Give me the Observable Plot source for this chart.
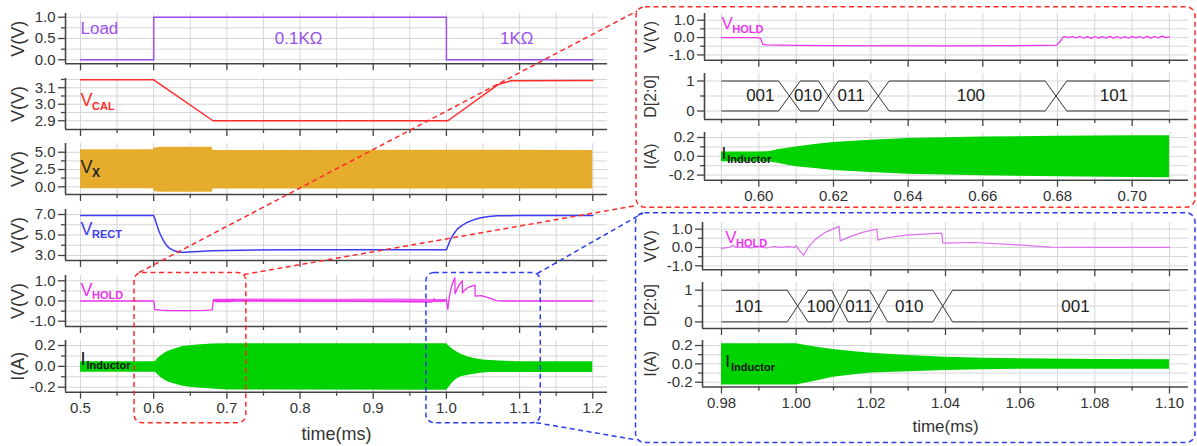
<!DOCTYPE html>
<html><head><meta charset="utf-8">
<script src="https://cdn.jsdelivr.net/npm/d3@7"></script>
<script src="https://cdn.jsdelivr.net/npm/@observablehq/plot@0.6"></script>
<style>
body{margin:0;background:#fff}
#fig{position:relative;width:1197px;height:446px;overflow:hidden;background:#fff;font-family:"Liberation Sans",Arial,sans-serif}
#fig svg{position:absolute}
</style>
</head><body><div id="fig"></div>
<script>
// ---------- DATA ----------
// Load control (step)
const loadT = [0.5, 0.6, 0.6, 1.0, 1.0, 1.2];
const loadV = [0, 0, 1, 1, 0, 0];
// VCAL
const vcalT = [0.5, 0.6, 0.681, 1.002, 1.07, 1.088, 1.2];
const vcalV = [3.148, 3.148, 2.90, 2.90, 3.118, 3.142, 3.144];
// VX switching envelope
const vxT  = [0.5, 0.6, 0.601, 0.61, 0.68, 0.681, 1.0, 1.2];
const vxHi = [5.35, 5.35, 5.6, 5.72, 5.72, 5.25, 5.28, 5.25];
const vxLo = [-0.29, -0.29, -0.7, -0.78, -0.78, -0.3, -0.3, -0.3];
// VRECT
const vrectT = [0.5, 0.6, 0.603, 0.606, 0.609, 0.613, 0.618, 0.622, 0.627, 0.632, 0.636, 0.642, 0.655, 0.68, 0.72, 0.8, 1.0, 1.003, 1.006, 1.01, 1.015, 1.022, 1.029, 1.037, 1.047, 1.058, 1.07, 1.1, 1.2];
const vrectV = [6.9, 6.9, 6.3, 5.6, 5.07, 4.5, 3.93, 3.7, 3.49, 3.38, 3.32, 3.31, 3.36, 3.45, 3.52, 3.55, 3.55, 4.1, 4.63, 5.1, 5.6, 5.97, 6.25, 6.48, 6.68, 6.8, 6.87, 6.9, 6.9];
// VHOLD
const vholdT = [0.5, 0.59, 0.5995, 0.6005, 0.601, 0.602, 0.61, 0.62, 0.65, 0.67, 0.6798, 0.6808, 0.6815, 0.682,
  0.683, 0.684, 0.685, 0.686, 0.687, 0.688, 0.689, 0.690, 0.691, 0.692, 0.693, 0.694, 0.695, 0.696, 0.697, 0.698, 0.699,
  0.700, 0.701, 0.702, 0.703, 0.704, 0.705, 0.706, 0.707, 0.708, 0.709, 0.710,
  0.98, 0.982, 0.983, 0.984, 0.986, 0.988, 0.990, 0.992, 0.994, 0.996, 0.998, 0.9995, 1.000, 1.001, 1.002, 1.0032, 1.0052,
  1.008, 1.0115, 1.0118, 1.0139, 1.0177, 1.0216, 1.0219, 1.0236, 1.0294, 1.039, 1.0393, 1.0478, 1.0603, 1.068, 1.08, 1.10, 1.2];
const vholdV = [0.0, 0.0, 0.0, -0.05, -0.38, -0.42, -0.45, -0.47, -0.48, -0.46, -0.44, -0.2, 0.02, 0.06,
  0.0, 0.05, -0.02, 0.06, -0.04, 0.05, -0.05, 0.06, -0.03, 0.05, -0.04, 0.07, -0.03, 0.06, -0.04, 0.05, -0.04,
  0.07, -0.02, 0.06, -0.04, 0.07, -0.03, 0.06, -0.02, 0.08, -0.01, 0.04,
  -0.05, 0.0, 0.12, 0.0, 0.03, -0.02, 0.04, -0.03, 0.05, 0.0, 0.04, 0.0, 0.1, -0.2, -0.42, 0.0, 0.45,
  0.85, 1.15, 0.36, 0.55, 0.82, 1.0, 0.4, 0.5, 0.67, 0.78, 0.24, 0.27, 0.13, 0.02, 0.0, 0.0, 0.0];
// VHOLD noise band (overview)
const holdNoiseT  = [0.682, 0.75, 0.85, 0.93, 0.999];
const holdNoiseHi = [0.09, 0.1, 0.09, 0.1, 0.08];
const holdNoiseLo = [-0.07, -0.08, -0.07, -0.08, -0.07];
// Inductor current envelope
const indT  = [0.5, 0.59, 0.600, 0.603, 0.605, 0.61, 0.615, 0.62, 0.63, 0.64, 0.65, 0.66, 0.68, 0.70, 0.71, 0.98, 1.0, 1.002, 1.006, 1.01, 1.015, 1.02, 1.03, 1.04, 1.05, 1.06, 1.08, 1.10, 1.2];
const indHi = [0.045, 0.045, 0.045, 0.05, 0.07, 0.10, 0.125, 0.146, 0.17, 0.19, 0.198, 0.204, 0.214, 0.218, 0.218, 0.218, 0.218, 0.205, 0.178, 0.156, 0.135, 0.116, 0.09, 0.073, 0.062, 0.055, 0.048, 0.044, 0.044];
const indLo = [-0.057, -0.057, -0.057, -0.06, -0.075, -0.11, -0.13, -0.15, -0.172, -0.19, -0.2, -0.207, -0.218, -0.226, -0.228, -0.229, -0.229, -0.215, -0.18, -0.145, -0.12, -0.10, -0.085, -0.073, -0.063, -0.058, -0.058, -0.06, -0.06];
// D[2:0] bus, zoom 1 (load step up)
const busAStart = [0.59, 0.6111, 0.6213, 0.6349, 0.6825];
const busAEnd   = [0.6053, 0.6160, 0.6291, 0.6767, 0.71];
const busALabel = ["001", "010", "011", "100", "101"];
const busALabelT = [0.6004, 0.6132, 0.6247, 0.6568, 0.6951];
// D[2:0] bus, zoom 2 (load step down)
const busBStart = [0.98, 1.0032, 1.0139, 1.0245, 1.0419];
const busBEnd   = [0.9976, 1.0095, 1.0197, 1.0366, 1.10];
const busBLabel = ["101", "100", "011", "010", "001"];
const busBLabelT = [0.9873, 1.0066, 1.0168, 1.0303, 1.0748];
// zoom regions marked in overview
const zoomT1 = [0.5738, 0.9727];
const zoomT2 = [0.7266, 1.1289];
// ticks
const leftXMajor = [0.5, 0.6, 0.7, 0.8, 0.9, 1.0, 1.1, 1.2];
const leftXMinor = [0.55, 0.65, 0.75, 0.85, 0.95, 1.05, 1.15];
const zoomAXMajor = [0.60, 0.62, 0.64, 0.66, 0.68, 0.70];
const zoomAXMinor = [0.59, 0.61, 0.63, 0.65, 0.67, 0.69, 0.71];
const zoomBXMajor = [0.98, 1.00, 1.02, 1.04, 1.06, 1.08, 1.10];
const zoomBXMinor = [0.99, 1.01, 1.03, 1.05, 1.07, 1.09];

// ---------- HELPERS ----------
const FONT = '"Liberation Sans", Arial, sans-serif';
const rows2 = (t, v) => t.map((x, i) => ({t: x, v: v[i]}));
const rows3 = (t, lo, hi) => t.map((x, i) => ({t: x, lo: lo[i], hi: hi[i]}));
const inRange = (rows, a, b) => rows.filter(d => d.t >= a - 1e-9 && d.t <= b + 1e-9);
const f1 = d => d.toFixed(1), f2 = d => d.toFixed(2), f0 = d => d.toFixed(0), none = () => "";
const fig = document.getElementById("fig");

function sig(main, sub, x, y, color, size, subSize) {
  const w = main === "I" ? 0.278 * size + 1 : 0.667 * size - 0.5;
  return [
    Plot.text([0], {x: () => x, y: () => y, text: () => main, fill: color, fontSize: size, textAnchor: "start"}),
    Plot.text([0], {x: () => x, y: () => y, text: () => sub, fill: color, fontSize: subSize, fontWeight: "bold", textAnchor: "start", dx: w, dy: 6})
  ];
}
function label(txt, x, y, color, size) {
  return Plot.text([0], {x: () => x, y: () => y, text: () => txt, fill: color, fontSize: size, textAnchor: "middle"});
}

function panel(c) {
  const mt = 8, mb = c.mb ?? 14;
  const width = c.fx1 - c.left + 6;
  const height = (c.fy1 - c.fy0) + mt + mb;
  const p = Plot.plot({
    width, height,
    marginLeft: c.fx0 - c.left, marginRight: 6, marginTop: mt, marginBottom: mb,
    x: {domain: c.xDomain}, y: {domain: c.yDomain},
    style: {background: "transparent", overflow: "visible", fontFamily: FONT, fontSize: "15px", color: "#333"},
    marks: [
      Plot.gridX(c.xMajor.concat(c.xMinor), {stroke: "#d6d6d6", strokeOpacity: 1, strokeWidth: 1}),
      Plot.gridY(c.yMajor.concat(c.yMinor), {stroke: "#d6d6d6", strokeOpacity: 1, strokeWidth: 1}),
      ...c.marks,
      Plot.ruleY([c.yDomain[0]], {stroke: "#444", strokeWidth: 1.6}),
      Plot.ruleX([c.xDomain[0]], {stroke: "#444", strokeWidth: 1.6}),
      Plot.axisX(c.xMinor, {tickSize: 4, tickFormat: none, label: null, stroke: "#444", strokeWidth: 1.3}),
      Plot.axisX(c.xMajor, {tickSize: 7, tickPadding: 3, tickFormat: c.xLabels ? c.xFmt : none, label: null, stroke: "#444", strokeWidth: 1.3, fontSize: c.xFont ?? 15}),
      Plot.axisY(c.yMinor, {tickSize: 4, tickFormat: none, label: null, stroke: "#444", strokeWidth: 1.3}),
      Plot.axisY(c.yMajor, {tickSize: 7, tickPadding: 3, tickFormat: c.yFmt, label: null, stroke: "#444", strokeWidth: 1.3, fontSize: 15}),
      Plot.text([c.yLabel], {text: d => d, frameAnchor: "left", rotate: -90, dx: c.yLabelDx, fontSize: c.yLabelSize, fill: "#333", textAnchor: "middle", lineAnchor: "middle"}),
      ...(c.xTitle ? [Plot.text([c.xTitle], {text: d => d, frameAnchor: "bottom", dy: c.xTitleDy, fontSize: c.xTitleSize, fill: "#333", textAnchor: "middle", lineAnchor: "middle"})] : [])
    ]
  });
  p.style.left = c.left + "px";
  p.style.top = (c.fy0 - mt) + "px";
  fig.appendChild(p);
  return p;
}

// ---------- COLORS ----------
const cLoad = "#9a50f0", cCal = "#ff2b2b", cVx = "#e6ac2e", cRect = "#3c3cf5", cHold = "#ee33ee", cHoldB = "#dc70ee", cInd = "#00d200", cBus = "#333";

// ---------- OVERVIEW (left) ----------
const LX = [0.4795, 1.2201];
const L = {left: 0, fx0: 65, fx1: 607, xDomain: LX, xMajor: leftXMajor, xMinor: leftXMinor, xFmt: f1, yLabelDx: -47, yLabelSize: 18};

panel({...L, fy0: 13, fy1: 63.3, yDomain: [-0.094, 1.087], yMajor: [0, 0.5, 1.0], yMinor: [0.25, 0.75], yFmt: f1, yLabel: "V(V)",
  marks: [
    Plot.line(rows2(loadT, loadV), {x: "t", y: "v", stroke: cLoad, strokeWidth: 1.5}),
    Plot.text([0], {x: () => 0.5, y: () => 0.73, text: () => "Load", fill: cLoad, fontSize: 17, textAnchor: "start"}),
    label("0.1KΩ", 0.798, 0.5, cLoad, 17),
    label("1KΩ", 1.096, 0.49, cLoad, 17)
  ]});

panel({...L, fy0: 78, fy1: 129, yDomain: [2.847, 3.156], yMajor: [2.9, 3.0, 3.1], yMinor: [2.95, 3.05, 3.15], yFmt: f1, yLabel: "V(V)",
  marks: [
    Plot.line(rows2(vcalT, vcalV), {x: "t", y: "v", stroke: cCal, strokeWidth: 1.5}),
    ...sig("V", "CAL", 0.5, 3.023, cCal, 18, 11)
  ]});

panel({...L, fy0: 143, fy1: 194, yDomain: [-1.11, 6.26], yMajor: [0, 2.5, 5.0], yMinor: [1.25, 3.75], yFmt: f1, yLabel: "V(V)",
  marks: [
    Plot.areaY(rows3(vxT, vxLo, vxHi), {x: "t", y1: "lo", y2: "hi", fill: cVx}),
    ...sig("V", "X", 0.5, 2.83, "#222", 18, 12)
  ]});

panel({...L, fy0: 209, fy1: 260, yDomain: [2.51, 7.49], yMajor: [3, 5, 7], yMinor: [4, 6], yFmt: f1, yLabel: "V(V)",
  marks: [
    Plot.line(rows2(vrectT, vrectV), {x: "t", y: "v", stroke: cRect, strokeWidth: 1.5}),
    ...sig("V", "RECT", 0.5, 5.6, cRect, 18, 11)
  ]});

panel({...L, fy0: 275, fy1: 326, yDomain: [-1.262, 1.262], yMajor: [-1, 0, 1], yMinor: [-0.5, 0.5], yFmt: f1, yLabel: "V(V)",
  marks: [
    Plot.areaY(rows3(holdNoiseT, holdNoiseLo, holdNoiseHi), {x: "t", y1: "lo", y2: "hi", fill: cHold, fillOpacity: 0.75}),
    Plot.line(rows2(vholdT, vholdV), {x: "t", y: "v", stroke: cHold, strokeWidth: 1.3}),
    ...sig("V", "HOLD", 0.5, 0.55, cHold, 18, 11)
  ]});

const pL6 = panel({...L, fy0: 340, fy1: 391.7, mb: 60, xLabels: true, yDomain: [-0.248, 0.248], yMajor: [-0.2, 0, 0.2], yMinor: [-0.1, 0.1], yFmt: f1, yLabel: "I(A)",
  xTitle: "time(ms)", xTitleDy: 42, xTitleSize: 18,
  marks: [
    Plot.areaY(rows3(indT, indLo, indHi), {x: "t", y1: "lo", y2: "hi", fill: cInd}),
    ...sig("I", "Inductor", 0.5, 0.07, "#111", 18, 11)
  ]});

// ---------- ZOOM A (top right) ----------
const A = {left: 630, fx0: 704, fx1: 1188, xDomain: [0.58545, 0.71509], xMajor: zoomAXMajor, xMinor: zoomAXMinor, xFmt: f2, yLabelDx: -54, yLabelSize: 16};
panel({...A, fy0: 13.3, fy1: 60, yDomain: [-1.305, 1.386], yMajor: [-1, 0, 1], yMinor: [-0.5, 0.5], yFmt: f1, yLabel: "V(V)",
  marks: [
    Plot.line(inRange(rows2(vholdT, vholdV), 0.59, 0.71), {x: "t", y: "v", stroke: cHold, strokeWidth: 1.3}),
    ...sig("V", "HOLD", 0.59, 0.8, cHold, 17, 11)
  ]});
function busMarks(st, en, lab, labT) {
  const seg = st.map((s, i) => ({s, e: en[i]}));
  const cross = en.slice(0, -1).map((e, i) => ({a: e, b: st[i + 1]}));
  const labs = lab.map((l, i) => ({l, t: labT[i]}));
  return [
    Plot.link(seg, {x1: "s", x2: "e", y1: () => 1, y2: () => 1, stroke: cBus, strokeWidth: 1}),
    Plot.link(seg, {x1: "s", x2: "e", y1: () => 0, y2: () => 0, stroke: cBus, strokeWidth: 1}),
    Plot.link(cross, {x1: "a", x2: "b", y1: () => 1, y2: () => 0, stroke: cBus, strokeWidth: 1}),
    Plot.link(cross, {x1: "a", x2: "b", y1: () => 0, y2: () => 1, stroke: cBus, strokeWidth: 1}),
    Plot.text(labs, {x: "t", y: () => 0.5, text: "l", fill: "#222", fontSize: 17, textAnchor: "middle"})
  ];
}
panel({...A, fy0: 73.3, fy1: 119.3, yDomain: [-0.283, 1.25], yMajor: [0, 1], yMinor: [0.5], yFmt: f0, yLabel: "D[2:0]",
  marks: busMarks(busAStart, busAEnd, busALabel, busALabelT)});
panel({...A, fy0: 131.7, fy1: 179.5, mb: 30, xLabels: true, yDomain: [-0.255, 0.253], yMajor: [-0.2, 0, 0.2], yMinor: [-0.1, 0.1], yFmt: f1, yLabel: "I(A)",
  marks: [
    Plot.areaY(inRange(rows3(indT, indLo, indHi), 0.59, 0.71), {x: "t", y1: "lo", y2: "hi", fill: cInd}),
    ...sig("I", "Inductor", 0.59, 0.03, "#111", 17, 11)
  ]});

// ---------- ZOOM B (bottom right) ----------
const B = {left: 630, fx0: 702, fx1: 1188, xDomain: [0.97491, 1.10509], xMajor: zoomBXMajor, xMinor: zoomBXMinor, xFmt: f2, yLabelDx: -52, yLabelSize: 16};
panel({...B, fy0: 221.7, fy1: 269, yDomain: [-1.218, 1.36], yMajor: [-1, 0, 1], yMinor: [-0.5, 0.5], yFmt: f1, yLabel: "V(V)",
  marks: [
    Plot.line(inRange(rows2(vholdT, vholdV), 0.98, 1.10), {x: "t", y: "v", stroke: cHoldB, strokeWidth: 1.2}),
    ...sig("V", "HOLD", 0.981, 0.54, cHold, 17, 11)
  ]});
panel({...B, fy0: 282.3, fy1: 328.3, yDomain: [-0.208, 1.243], yMajor: [0, 1], yMinor: [0.5], yFmt: f0, yLabel: "D[2:0]",
  marks: busMarks(busBStart, busBEnd, busBLabel, busBLabelT)});
panel({...B, fy0: 340, fy1: 386.5, mb: 50, xLabels: true, yDomain: [-0.252, 0.2545], yMajor: [-0.2, 0, 0.2], yMinor: [-0.1, 0.1], yFmt: f1, yLabel: "I(A)",
  xTitle: "time(ms)", xTitleDy: 40, xTitleSize: 17,
  marks: [
    Plot.areaY(inRange(rows3(indT, indLo, indHi), 0.98, 1.10), {x: "t", y1: "lo", y2: "hi", fill: cInd}),
    ...sig("I", "Inductor", 0.981, 0.03, "#111", 17, 11)
  ]});

// ---------- OVERLAY: zoom boxes & connectors ----------
const sx = pL6.scale("x");
const ov = d3.select(fig).append("svg").attr("width", 1197).attr("height", 446).style("left", "0px").style("top", "0px");
const cRed = "#ff2a2a", cBlue = "#2a3cf0";
const boxY0 = 272.5, boxY1 = 422.7;
const colorsZ = [cRed, cBlue];
zoomT1.forEach((t1, i) => {
  const x1 = sx.apply(t1), x2 = sx.apply(zoomT2[i]);
  ov.append("rect").attr("x", x1).attr("y", boxY0).attr("width", x2 - x1).attr("height", boxY1 - boxY0)
    .attr("rx", 8).attr("fill", "none").attr("stroke", colorsZ[i]).attr("stroke-width", 1.5).attr("stroke-dasharray", "5,3.5");
});
const big = [[636, 6.7, 1195, 207.3, cRed], [635.5, 212.7, 1195, 442.5, cBlue]];
big.forEach(([a, b, c2, d, col]) => {
  ov.append("rect").attr("x", a).attr("y", b).attr("width", c2 - a).attr("height", d - b)
    .attr("rx", 9).attr("fill", "none").attr("stroke", col).attr("stroke-width", 1.5).attr("stroke-dasharray", "5,3.5");
});
const rx1 = sx.apply(zoomT1[0]), rx2 = sx.apply(zoomT2[0]), bx2 = sx.apply(zoomT2[1]);
const conn = [
  [rx1 + 5, boxY0, 637, 11, cRed],
  [rx2 - 2, boxY0 + 2, 636.5, 205.5, cRed],
  [bx2 - 3, boxY0 + 1, 643, 213, cBlue],
  [bx2 - 4, boxY1, 637, 440, cBlue]
];
conn.forEach(([a, b, c2, d, col]) => {
  ov.append("line").attr("x1", a).attr("y1", b).attr("x2", c2).attr("y2", d)
    .attr("stroke", col).attr("stroke-width", 1.5).attr("stroke-dasharray", "5,3.5");
});
</script></body></html>
